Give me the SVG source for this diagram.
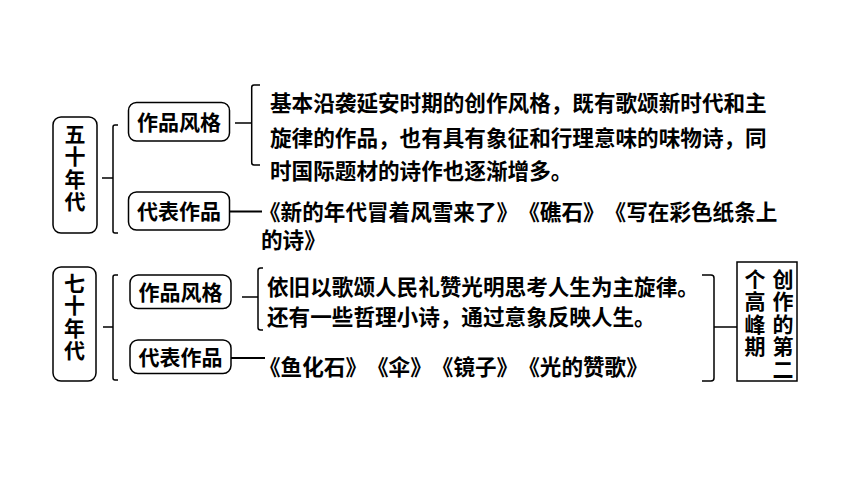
<svg xmlns="http://www.w3.org/2000/svg" width="860" height="484" viewBox="0 0 860 484">
<style>
text{font-family:"Noto Sans CJK SC","Noto Sans CJK TC",sans-serif;font-weight:700;fill:#000;text-spacing-trim:space-all;}
.lbl{font-size:21px;text-anchor:middle;}
.vert{font-size:21px;writing-mode:vertical-rl;text-orientation:upright;}
.txt{font-size:21.6px;}
.box{fill:#fff;stroke:#000;stroke-width:1.5;}
.ln{fill:none;stroke:#000;stroke-width:1.5;}
.thick{fill:none;stroke:#000;stroke-width:2;}
</style>
<rect width="860" height="484" fill="#fff"/>
<g id="connectors">
<path class="ln" d="M102 178H113M118 125H115Q113 125 113 127V231Q113 233 115 233H118"/>
<path class="ln" d="M235 123H251.7M260 85H254Q251.7 85 251.7 87.5V162.5Q251.7 165 254 165H260"/>
<path class="thick" d="M229 211.5H262"/>
<path class="ln" d="M103 327H113M118 275H115Q113 275 113 277V378Q113 380 115 380H118"/>
<path class="ln" d="M242 297H258M263 268H260.5Q258 268 258 270.5V327.5Q258 330 260.5 330H263"/>
<path class="thick" d="M231 358H265"/>
<path class="ln" d="M702 275H711Q714 275 714 278V378Q714 381 711 381H702M714 327H737"/>
</g>
<g id="n50s">
<rect class="box" x="53" y="117" width="44" height="116" rx="8"/>
<text class="vert" x="75" y="123.5" letter-spacing="1.3">五十年代</text>
</g>
<g id="n50s-style">
<rect class="box" x="128.5" y="102.5" width="101" height="38.5" rx="8"/>
<text class="lbl" x="179" y="129.5">作品风格</text>
</g>
<g id="n50s-style-text">
<text class="txt"><tspan x="270" y="111">基本沿袭延安时期的创作风格，既有歌颂新时代和主</tspan><tspan x="270" y="146">旋律的作品，也有具有象征和行理意味的味物诗，同</tspan><tspan x="270" y="179">时国际题材的诗作也逐渐增多。</tspan></text>
</g>
<g id="n50s-works">
<rect class="box" x="128.5" y="192" width="101" height="38" rx="8"/>
<text class="lbl" x="179" y="219">代表作品</text>
</g>
<g id="n50s-works-text">
<text class="txt"><tspan x="259" y="220">《新的年代冒着风雪来了》</tspan><tspan x="518.2" y="220">《礁石》</tspan><tspan x="604.6" y="220">《写在彩色纸条上</tspan><tspan x="261" y="248">的诗》</tspan></text>
</g>
<g id="n70s">
<rect class="box" x="53" y="267" width="43" height="114" rx="8"/>
<text class="vert" x="74.5" y="272.5" letter-spacing="1.3">七十年代</text>
</g>
<g id="n70s-style">
<rect class="box" x="130" y="275" width="101" height="33.5" rx="8"/>
<text class="lbl" x="180.5" y="299.5">作品风格</text>
</g>
<g id="n70s-style-text">
<text class="txt"><tspan x="267" y="294.5">依旧以歌颂人民礼赞光明思考人生为主旋律。</tspan><tspan x="267" y="324.5">还有一些哲理小诗，通过意象反映人生。</tspan></text>
</g>
<g id="n70s-works">
<rect class="box" x="130" y="340" width="101" height="33.5" rx="8"/>
<text class="lbl" x="180.5" y="364.5">代表作品</text>
</g>
<g id="n70s-works-text">
<text class="txt"><tspan x="259" y="375">《鱼化石》</tspan><tspan x="367" y="375">《伞》</tspan><tspan x="431.8" y="375">《镜子》</tspan><tspan x="518.2" y="375">《光的赞歌》</tspan></text>
</g>
<g id="peak">
<rect x="737" y="262" width="60" height="119" fill="#fff" stroke="#000" stroke-width="1.5"/>
<text class="vert" x="783" y="268.5" letter-spacing="1.5">创作的第二</text>
<text class="vert" x="755" y="268.5" letter-spacing="1.5">个高峰期</text>
</g>
</svg>
